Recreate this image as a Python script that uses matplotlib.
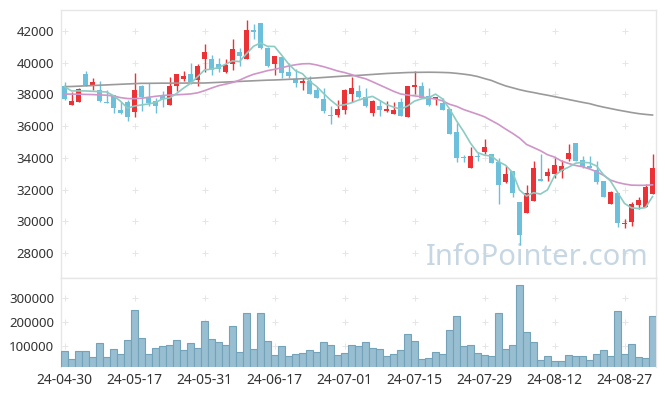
import matplotlib
matplotlib.use("Agg")
import matplotlib.pyplot as plt
import numpy as np
import pandas as pd

# trading days shown on the x axis (every 10th day is labelled)
tick_labels = ["24-04-30", "24-05-17", "24-05-31", "24-06-17", "24-07-01",
               "24-07-15", "24-07-29", "24-08-12", "24-08-27"]

opens = [38530, 37350, 37540, 39290, 38610, 38260, 37520, 37940, 37020, 37500,
         36910, 38530, 37750, 37580, 37900, 37350, 38550, 38970, 39270, 38930,
         40250, 40250, 39920, 39430, 39940, 40680, 40250, 42060, 42510, 40930,
         39940, 40340, 39410, 38950, 38740, 38850, 38280, 37710, 36720, 36700,
         37040, 38000, 38220, 37840, 36850, 37270, 36970, 36790, 37500, 36600,
         38490, 38530, 37900, 37730, 37480, 37080, 35650, 34050, 33380, 34090,
         34390, 34220, 33740, 32490, 33170, 31230, 30540, 31300, 32660, 32870,
         33000, 33190, 33950, 34930, 33840, 33460, 33210, 32540, 31110, 31760,
         29800, 29970, 31020, 30920, 31720]
highs = [38800, 38170, 38380, 39480, 39010, 38820, 38280, 37980, 37540, 37650,
         39330, 38590, 38740, 37790, 38190, 39120, 39290, 39480, 39960, 39900,
         41160, 40490, 40280, 40210, 41500, 40910, 42690, 42420, 42510, 40970,
         40440, 40380, 39960, 39580, 39010, 39180, 38490, 38430, 37290, 37650,
         38340, 39080, 38590, 38380, 37650, 37630, 37560, 37500, 37750, 38530,
         39480, 38760, 38430, 37840, 37750, 37080, 36180, 34180, 34660, 34280,
         35190, 34220, 33970, 33500, 33170, 31230, 32280, 33800, 34220, 33380,
         33970, 33840, 34850, 34930, 34140, 34090, 33800, 32540, 31910, 31760,
         30140, 31230, 31550, 32330, 34220]
lows = [37650, 37350, 37520, 38510, 38280, 37540, 37440, 36810, 36760, 36300,
        36600, 36970, 37250, 36810, 37230, 37350, 38220, 38870, 38680, 38510,
        39430, 39220, 39430, 39330, 39540, 39770, 40250, 41500, 40860, 39750,
        39200, 39010, 39010, 38490, 38280, 38000, 37750, 36810, 36130, 36600,
        36790, 37500, 37750, 37230, 36660, 36660, 36910, 36760, 36660, 36600,
        38000, 37750, 37290, 37330, 37020, 35480, 33710, 33760, 33380, 33820,
        34220, 33690, 31060, 32390, 31550, 28500, 30500, 31300, 32560, 32560,
        32750, 32750, 33820, 33820, 33380, 33340, 32330, 31550, 31060, 29610,
        29550, 29700, 30750, 30920, 31720]
closes = [37730, 37580, 38340, 38570, 38780, 37610, 37480, 37160, 36830, 36600,
          38260, 37840, 37460, 37290, 37730, 38530, 39270, 39160, 38800, 39790,
          40680, 39560, 39620, 39860, 40860, 40440, 42060, 41960, 40910, 39790,
          40400, 39370, 39160, 38740, 38850, 38000, 37790, 36970, 36620, 37080,
          38280, 38400, 37840, 37290, 37580, 37040, 37080, 37020, 36660, 38530,
          38610, 37790, 37330, 37840, 37020, 35480, 34010, 34010, 34110, 34050,
          34680, 33690, 32280, 32980, 31800, 29130, 31760, 33340, 32560, 33130,
          33550, 33480, 34320, 33820, 33440, 33380, 32490, 31550, 31840, 29870,
          29890, 31090, 31340, 32140, 33340]
volumes = [79000, 48000, 79000, 79000, 56000, 111000, 56000, 86000, 69000, 124000,
           251000, 132000, 69000, 94000, 99000, 103000, 124000, 82000, 111000, 94000,
           204000, 128000, 115000, 103000, 183000, 77000, 238000, 90000, 238000, 120000,
           65000, 99000, 61000, 69000, 73000, 82000, 77000, 115000, 103000, 65000,
           73000, 103000, 99000, 115000, 94000, 90000, 61000, 69000, 82000, 149000,
           120000, 48000, 52000, 77000, 69000, 166000, 225000, 99000, 103000, 73000,
           65000, 61000, 238000, 86000, 103000, 354000, 158000, 115000, 44000, 61000,
           39000, 39000, 65000, 61000, 61000, 44000, 69000, 82000, 61000, 246000,
           69000, 107000, 56000, 52000, 225000]

# 5-day average needs days before the window: first four
ma5_head = [38490, 38220, 38220, 38220]
ma20 = [38025, 38020, 38010, 38000, 37990, 37970, 37950, 37900, 37800, 37740,
        37730, 37760, 37820, 37880, 37930, 37960, 37980, 38000, 38030, 38100,
        38236, 38400, 38550, 38650, 38750, 38900, 39100, 39270, 39380, 39500,
        39580, 39680, 39790, 39870, 39930, 39940, 39860, 39750, 39620, 39480,
        39380, 39250, 39100, 38990, 38800, 38600, 38400, 38200, 38030, 37960,
        37910, 37850, 37770, 37710, 37600, 37380, 37250, 37050, 36900, 36750,
        36590, 36350, 36110, 35820, 35550, 35250, 34850, 34650, 34450, 34200,
        34050, 33800, 33650, 33520, 33440, 33300, 33130, 32900, 32600, 32450,
        32350, 32280, 32270, 32270, 32300]
ma_long = [38490, 38500, 38520, 38540, 38560, 38580, 38600, 38620, 38640, 38660,
           38680, 38700, 38700, 38705, 38710, 38710, 38715, 38715, 38720, 38720,
           38720, 38740, 38760, 38780, 38800, 38820, 38840, 38860, 38880, 38900,
           38910, 38930, 38950, 38970, 38990, 39010, 39040, 39070, 39100, 39130,
           39160, 39180, 39200, 39230, 39260, 39290, 39320, 39340, 39360, 39380,
           39390, 39395, 39400, 39395, 39385, 39370, 39330, 39280, 39220, 39130,
           39000, 38880, 38700, 38540, 38420, 38300, 38200, 38120, 38030, 37950,
           37860, 37770, 37680, 37590, 37500, 37420, 37300, 37200, 37110, 37020,
           36940, 36860, 36790, 36740, 36700]

UP = "#eb3237"
DOWN = "#6cc0db"
TXT = "#333333"
EDGE = "#e6e6e6"

plt.rcParams['font.family'] = ['Noto Sans', 'DejaVu Sans']

df = pd.DataFrame({"o": opens, "h": highs, "l": lows, "c": closes, "v": volumes})
x = np.arange(len(df))
ma5 = df["c"].rolling(5).mean().to_numpy()
ma5[:4] = ma5_head

fig = plt.figure(figsize=(6.65, 3.96), dpi=100)
ax = fig.add_axes([61 / 665, 1 - 278 / 396, 595 / 665, 268 / 396])
axv = fig.add_axes([61 / 665, 1 - 367.3 / 396, 595 / 665, 89.3 / 396], sharex=ax)

colors = np.where(df["c"] >= df["o"], UP, DOWN)
ax.vlines(x, df["l"], df["h"], color=colors, linewidth=1.0, zorder=3)
body = (df["c"] - df["o"]).abs().clip(lower=25)
ax.bar(x, body, bottom=np.minimum(df["o"], df["c"]), width=0.7, color=colors,
       linewidth=0, zorder=4)

ax.plot(x, ma_long, color="#9a9a9a", linewidth=1.2, zorder=5)
ax.plot(x, ma20, color="#cf94c8", linewidth=1.2, zorder=5)
ax.plot(x, ma5, color="#8ccbc2", linewidth=1.2, zorder=5)

price_ticks = np.arange(28000, 42001, 2000)
ax.set_ylim(26425, 43323)
ax.set_yticks(price_ticks)
ax.set_xlim(-0.5, len(df) - 0.5)

ax.text(0.987, 0.048, "InfoPointer.com", transform=ax.transAxes, ha="right",
        va="baseline", fontsize=21, color="#c6d7e3", zorder=1)

# volume panel
axv.bar(x, df["v"], width=1.0, color="#97bfd1", edgecolor="#74a2b8",
        linewidth=0.8, zorder=3)
vol_ticks = [100000, 200000, 300000]
axv.set_ylim(12400, 381400)
axv.set_yticks(vol_ticks)

label_pos = x[::10]
axv.set_xticks(label_pos)
axv.set_xticklabels(tick_labels)

# "+" grid markers
for a, yt in ((ax, price_ticks), (axv, vol_ticks)):
    gx, gy = np.meshgrid(label_pos, yt)
    a.plot(gx.ravel(), gy.ravel(), linestyle="none", marker="+", markersize=4.5,
           markeredgewidth=0.7, color="#e6e6e6", zorder=0)
    for s in a.spines.values():
        s.set_color(EDGE)
        s.set_linewidth(1.0)
    a.tick_params(length=0, colors=TXT, labelsize=9.5)
    a.tick_params(axis="y", pad=5)

axv.spines["bottom"].set_visible(False)
axv.tick_params(axis="x", pad=4, labelsize=10)
ax.tick_params(axis="x", labelbottom=False)

fig.savefig("out.png", dpi=100, facecolor="white")
